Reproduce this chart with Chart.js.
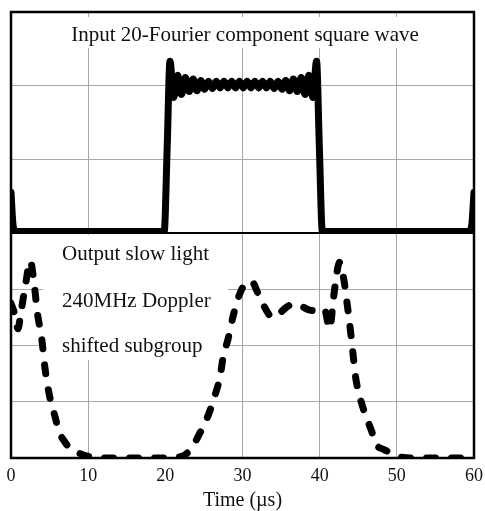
<!DOCTYPE html>
<html>
<head>
<meta charset="utf-8">
<script src="https://cdn.jsdelivr.net/npm/chart.js@4/dist/chart.umd.min.js"></script>
<style>
  html, body { margin: 0; padding: 0; background: #fff; }
  #wrap { width: 485px; height: 511px; }
</style>
</head>
<body>
<div id="wrap"><canvas id="chart" width="485" height="511"></canvas></div>
<script>
// time axis ticks (µs)
const timeTicks = [0, 10, 20, 30, 40, 50, 60];

// top panel: 20-component Fourier square wave
const timeIn = [0, 0.3, 0.7, 10, 19.85, 20.25,
  20.6, 21.1, 21.6, 22.1, 22.6, 23.1, 23.6, 24.1, 24.6, 25.1, 25.6, 26.1, 26.6,
  27.1, 27.6, 28.1, 28.6, 29.1, 29.6, 30.1, 30.6, 31.1, 31.6, 32.1, 32.6, 33.1,
  33.6, 34.1, 34.6, 35.1, 35.6, 36.1, 36.6, 37.1, 37.6, 38.1, 38.6, 39.1, 39.6,
  39.95, 40.35, 50, 59.3, 59.7, 60];
const squareIn = [0.55, 0.08, 0.02, 0.02, 0.02, 1.2,
  2.33, 1.84, 2.14, 1.88, 2.11, 1.92, 2.09, 1.93, 2.07, 1.95, 2.06, 1.96, 2.06,
  1.97, 2.06, 1.97, 2.06, 1.97, 2.06, 1.97, 2.06, 1.97, 2.06, 1.97, 2.06, 1.97,
  2.06, 1.96, 2.06, 1.95, 2.07, 1.93, 2.09, 1.92, 2.11, 1.88, 2.14, 1.84, 2.33,
  1.2, 0.02, 0.02, 0.02, 0.1, 0.55];

// bottom panel: output slow light
const timeOut = [0, 0.5, 0.9, 1.3, 1.9, 2.5, 3.0, 3.4, 4.0, 4.4, 5.0, 5.7, 6.2, 7.0,
  7.6, 8.9, 10.3, 12, 16, 20, 21.9, 23.2, 24.5, 25.5, 26.4, 27.1, 27.5, 28.1,
  28.8, 29.4, 30.1, 30.6, 31.2, 31.9, 32.6, 33.2, 33.8, 34.6, 35.7, 36.6, 37.6,
  38.7, 39.8, 40.6, 41.3, 41.8, 42.3, 42.6, 43.1, 43.6, 44.0, 44.4, 44.7, 45.6,
  46.8, 47.2, 48.3, 49.4, 50.4, 52, 56, 60];
const slowOut = [2.75, 2.55, 2.3, 2.6, 3.1, 3.5, 3.1, 2.6, 2.1, 1.6, 1.1, 0.74, 0.48, 0.28,
  0.18, 0.08, 0.02, 0, 0, 0, 0.02, 0.14, 0.45, 0.74, 1.1, 1.45, 1.8, 2.1,
  2.53, 2.83, 3.05, 3.12, 3.14, 2.96, 2.75, 2.6, 2.5, 2.55, 2.68, 2.74, 2.7,
  2.63, 2.62, 2.65, 2.3, 2.85, 3.35, 3.48, 3.2, 2.7, 2.25, 1.75, 1.4, 0.9,
  0.45, 0.27, 0.15, 0.09, 0.02, 0, 0, 0];

const serif = "'Liberation Serif', 'Times New Roman', serif";
const gridGrey = '#a8a8a8';

const panelDecor = {
  id: 'panelDecor',
  beforeDatasetsDraw(chart) {
    const { ctx, chartArea: a } = chart;
    ctx.save();
    ctx.fillStyle = '#fff';
    // white boxes behind the texts
    ctx.fillRect(a.left + 2, 17, a.right - a.left - 4, 31);
    ctx.fillRect(43, chart.scales.yTop.bottom + 2, 185, 125);
    ctx.restore();
  },
  afterDraw(chart) {
    const { ctx, chartArea: a } = chart;
    const sep = chart.scales.yTop.bottom;
    ctx.save();
    ctx.strokeStyle = '#000';
    ctx.lineWidth = 2.5;
    ctx.strokeRect(a.left, a.top, a.right - a.left, a.bottom - a.top);
    ctx.lineWidth = 2;
    ctx.beginPath();
    ctx.moveTo(a.left, sep);
    ctx.lineTo(a.right, sep);
    ctx.stroke();

    ctx.fillStyle = '#111';
    ctx.font = '21px ' + serif;
    ctx.textBaseline = 'alphabetic';
    ctx.textAlign = 'center';
    ctx.fillText('Input 20-Fourier component square wave', 245, 41);
    ctx.textAlign = 'left';
    ctx.fillText('Output slow light', 62, 260);
    ctx.fillText('240MHz Doppler', 62, 307);
    ctx.fillText('shifted subgroup', 62, 352);
    ctx.restore();
  }
};

const ctx = document.getElementById('chart').getContext('2d');
new Chart(ctx, {
  type: 'line',
  data: {
    datasets: [
      {
        label: 'Input',
        data: timeIn.map((t, i) => ({ x: t, y: squareIn[i] })),
        yAxisID: 'yTop',
        borderColor: '#000',
        borderWidth: 7,
        borderJoinStyle: 'round',
        borderCapStyle: 'round',
        cubicInterpolationMode: 'monotone',
        pointRadius: 0,
        fill: false
      },
      {
        label: 'Output',
        data: timeOut.map((t, i) => ({ x: t, y: slowOut[i] })),
        yAxisID: 'yBot',
        borderColor: '#000',
        borderWidth: 7,
        borderDash: [9, 16],
        borderCapStyle: 'round',
        borderJoinStyle: 'round',
        cubicInterpolationMode: 'monotone',
        pointRadius: 0,
        fill: false
      }
    ]
  },
  options: {
    responsive: false,
    animation: false,
    events: [],
    layout: { padding: { top: 12, left: 11, right: 11, bottom: 0 } },
    plugins: { legend: { display: false }, tooltip: { enabled: false } },
    scales: {
      x: {
        type: 'linear',
        min: 0,
        max: 60,
        afterBuildTicks: s => { s.ticks = timeTicks.map(v => ({ value: v })); },
        afterFit: s => { s.paddingLeft = 0; s.paddingRight = 0; s.height = 53; },
        grid: {
          color: c => (c.tick && c.tick.value === 20 ? 'rgba(0,0,0,0)' : gridGrey),
          lineWidth: 1,
          drawTicks: false
        },
        border: { display: false },
        ticks: { color: '#111', font: { family: serif, size: 18 }, padding: 7, maxRotation: 0 },
        title: {
          display: true,
          text: 'Time (µs)',
          color: '#111',
          font: { family: serif, size: 20 },
          padding: { top: 0, bottom: -2 }
        }
      },
      yBot: {
        type: 'linear',
        position: 'left',
        stack: 'panels',
        stackWeight: 225,
        min: 0,
        max: 4,
        ticks: { display: false, stepSize: 1 },
        grid: { color: gridGrey, lineWidth: 1, drawTicks: false },
        border: { display: false }
      },
      yTop: {
        type: 'linear',
        position: 'left',
        stack: 'panels',
        stackWeight: 221,
        min: 0,
        max: 3,
        ticks: { display: false, stepSize: 1 },
        grid: { color: gridGrey, lineWidth: 1, drawTicks: false },
        border: { display: false }
      }
    }
  },
  plugins: [panelDecor]
});
</script>
</body>
</html>
